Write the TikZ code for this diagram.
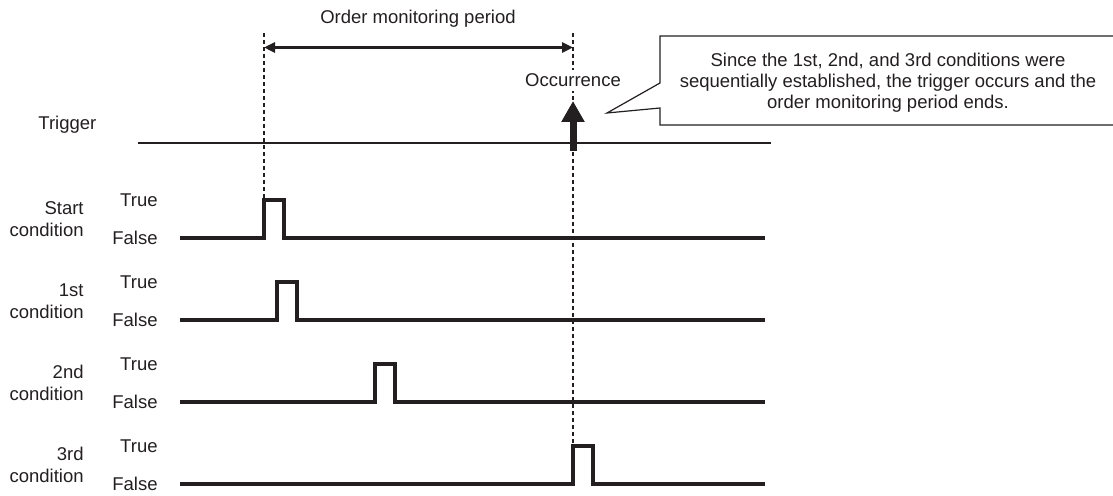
\documentclass[tikz,border=0pt]{standalone}
\usepackage{fontspec}
\setmainfont{Liberation Sans}
\usetikzlibrary{arrows.meta,positioning}
\definecolor{inkcol}{RGB}{35,31,32}
\tikzset{
  lbl/.style={inner sep=0pt,text=inkcol},
  signal/.style={draw=inkcol,line width=1.8pt,line join=miter},
  trigline/.style={draw=inkcol,line width=1pt},
  guide/.style={draw=inkcol,line width=.9pt,dash pattern=on 2pt off 1.5pt},
  period/.style={{Triangle[length=5.5pt,width=5pt]}-{Triangle[length=5.5pt,width=5pt]},
                 draw=inkcol,fill=inkcol,line width=1.4pt},
  fire/.style={-{Triangle[length=10.5pt,width=11pt]},draw=inkcol,line width=3.5pt},
  callout/.style={draw=inkcol,line width=.6pt,line join=miter},
}

\begin{document}
\begin{tikzpicture}[x=.5pt,y=-.5pt,font=\fontsize{9.25}{11}\selectfont]
  \useasboundingbox (0,0) rectangle (1113,496);
  % --- trigger line
  \node[lbl,anchor=west] (trig) at (38,125) {Trigger};
  \draw[trigline] (138,143) -- (771,143);
  % --- condition rows
  \foreach \name/\yy/\xa [count=\i] in {{Start\\condition}/238/264,{1st\\condition}/320/277,
      {2nd\\condition}/402/375,{3rd\\condition}/484/573}{
    \node[lbl,align=right,anchor=east] (row\i) at (84,\yy-19) {\name};
    \node[lbl,anchor=east] (true\i) at (158,\yy-38) {True};
    \node[lbl,anchor=east] (false\i) at (158,\yy) {False};
    \draw[signal] (180,\yy) -- (\xa,\yy) -- (\xa,\yy-38) -- (\xa+20,\yy-38)
      -- (\xa+20,\yy) -- (765,\yy);
  }
  % --- monitoring period
  \coordinate (pstart) at (264,33);
  \coordinate (pend) at (573,33);
  \coordinate (sbot) at (264,200);
  \coordinate (ebot) at (573,446);
  \draw[guide] (pstart) -- (sbot);
  \draw[guide] (pend) -- (ebot);
  \coordinate (pa) at (264,47.5);
  \coordinate (pb) at (573,47.5);
  \draw[period] (pa) -- (pb);
  \node[lbl,anchor=base] (ttl) at (418,24) {Order monitoring period};
  % --- occurrence
  \node[lbl,anchor=base,fill=white,inner sep=2pt] (occ) at (573,87) {Occurrence};
  \coordinate (fbot) at (573,151);
  \coordinate (ftip) at (573,101);
  \draw[fire] (fbot) -- (ftip);
  % --- callout
  \draw[callout] (1114,36) -- (660,36) -- (660,83) -- (607,113) -- (660,108)
    -- (660,125) -- (1114,125);
  \node[lbl,align=center] (note) at (888,83)
    {Since the 1st, 2nd, and 3rd conditions were\\[-.5pt]
     sequentially established, the trigger occurs and the\\[-.5pt]
     order monitoring period ends.};
\end{tikzpicture}
\end{document}
